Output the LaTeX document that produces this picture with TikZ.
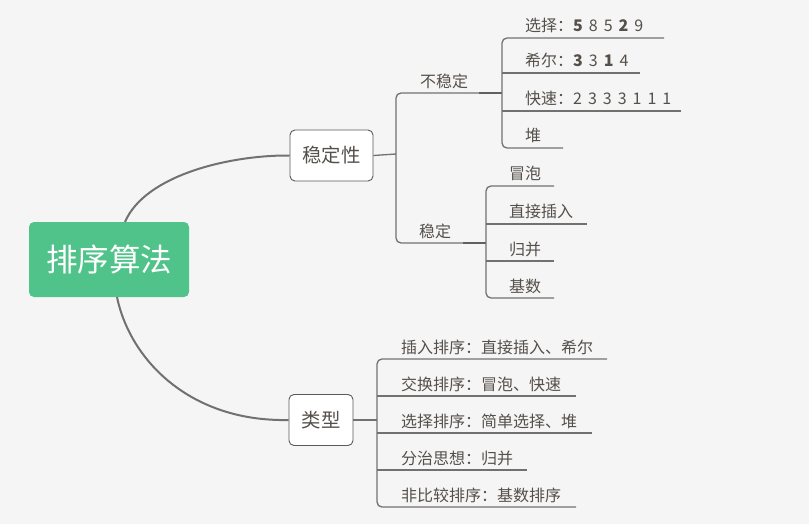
\documentclass[tikz,border=0pt]{standalone}
\usepackage{fontspec}
\newfontfamily\cjk{Noto Sans CJK SC}
\definecolor{bg}{HTML}{F5F5F5}
\definecolor{rootg}{HTML}{50C38A}
\definecolor{txt}{HTML}{55504A}
\definecolor{lc}{HTML}{717171}
\definecolor{bc}{HTML}{5A5A5A}
\newcommand\gapx{\hspace{6pt}}
\tikzset{
  lbl/.style={font=\cjk\fontsize{16}{16}\selectfont, text=txt, anchor=base west, inner sep=0pt},
  ln/.style={draw=lc, line width=1.3pt},
  thk/.style={draw=lc!85!black, line width=2.4pt},
  crv/.style={draw=lc, line width=2pt},
  topic/.style={draw=bc, line width=0.9pt, fill=white, rounded corners=5pt, minimum height=51pt, inner sep=0pt, font=\cjk\fontsize{19.4}{19.4}\selectfont, text=txt},
}
\begin{document}
\begin{tikzpicture}[x=1pt,y=-1pt]
\fill[bg] (0,0) rectangle (809,524);
\useasboundingbox (0,0) rectangle (809,524);

% root and main topics
\node[fill=rootg, rounded corners=5pt, minimum width=160pt, minimum height=75pt, inner sep=0pt,
      font=\cjk\fontsize{31.5}{31.5}\selectfont, text=white] (root) at (109,259.5) {\raisebox{-3pt}{排序算法}};
\node[topic, minimum width=83pt] (stab) at (331.5,155.5) {稳定性};
\node[topic, minimum width=64pt] (type) at (321,420) {\raisebox{-1pt}{类型}};

\coordinate (rt) at (125,222);
\coordinate (rb) at (117,297);
\draw[crv] (rt) .. controls (145,175) and (230,155) .. (stab.west);
\draw[crv] (rb) .. controls (130,360) and (190,422) .. (type.west);

% stability branch
\coordinate (sv) at (396,154);
\draw[ln] (stab.east) -- (sv);
\node[lbl] (unst) at (420,88) {不稳定};
\node[lbl] (st) at (419,237) {稳定};
\coordinate (ua) at (479,93);
\coordinate (ub) at (502,93);
\coordinate (sa) at (463,243);
\coordinate (sb) at (486,243);
\draw[ln, rounded corners=5pt] (ua) -- (396,93) -- (396,243) -- (sa);
\draw[thk] (ua) -- (ub);
\draw[thk] (sa) -- (sb);

% unstable children
\node[lbl] (u1) at (525,32) {选择：\textbf{5}\gapx 8\gapx 5\gapx \textbf{2}\gapx 9};
\node[lbl] (u2) at (525,67) {希尔：\textbf{3}\gapx 3\gapx \textbf{1}\gapx 4};
\node[lbl] (u3) at (525,105) {快速：2\gapx 3\gapx 3\gapx 3\gapx 1\gapx 1\gapx 1};
\node[lbl] (u4) at (525,142) {堆};
\coordinate (u1s) at (502,38);  \coordinate (u1e) at (664,38);
\coordinate (u2s) at (502,73);  \coordinate (u2e) at (640,73);
\coordinate (u3s) at (502,111); \coordinate (u3e) at (681,111);
\coordinate (u4s) at (502,148); \coordinate (u4e) at (563,148);
\draw[ln, rounded corners=5pt] (u1e) -- (u1s) -- (u4s) -- (u4e);
\draw[ln] (u2s) -- (u2e);
\draw[ln] (u3s) -- (u3e);

% stable children
\node[lbl] (s1) at (509,180) {冒泡};
\node[lbl] (s2) at (509,218) {直接插入};
\node[lbl] (s3) at (509,255) {归并};
\node[lbl] (s4) at (509,292) {基数};
\coordinate (s1s) at (486,186); \coordinate (s1e) at (554,186);
\coordinate (s2s) at (486,224); \coordinate (s2e) at (587,224);
\coordinate (s3s) at (486,261); \coordinate (s3e) at (554,261);
\coordinate (s4s) at (486,298); \coordinate (s4e) at (554,298);
\draw[ln, rounded corners=5pt] (s1e) -- (s1s) -- (s4s) -- (s4e);
\draw[ln] (s2s) -- (s2e);
\draw[ln] (s3s) -- (s3e);

% type children
\coordinate (tv) at (377,420);
\draw[ln] (type.east) -- (tv);
\node[lbl] (t1) at (401,353) {插入排序：直接插入、希尔};
\node[lbl] (t2) at (401,390) {交换排序：冒泡、快速};
\node[lbl] (t3) at (401,427) {选择排序：简单选择、堆};
\node[lbl] (t4) at (401,464) {分治思想：归并};
\node[lbl] (t5) at (401,501) {非比较排序：基数排序};
\coordinate (t1s) at (377,359); \coordinate (t1e) at (607,359);
\coordinate (t2s) at (377,396); \coordinate (t2e) at (576,396);
\coordinate (t3s) at (377,433); \coordinate (t3e) at (592,433);
\coordinate (t4s) at (377,470); \coordinate (t4e) at (527,470);
\coordinate (t5s) at (377,507); \coordinate (t5e) at (576,507);
\draw[ln, rounded corners=5pt] (t1e) -- (t1s) -- (t5s) -- (t5e);
\draw[ln] (t2s) -- (t2e);
\draw[ln] (t3s) -- (t3e);
\draw[ln] (t4s) -- (t4e);
\end{tikzpicture}
\end{document}
